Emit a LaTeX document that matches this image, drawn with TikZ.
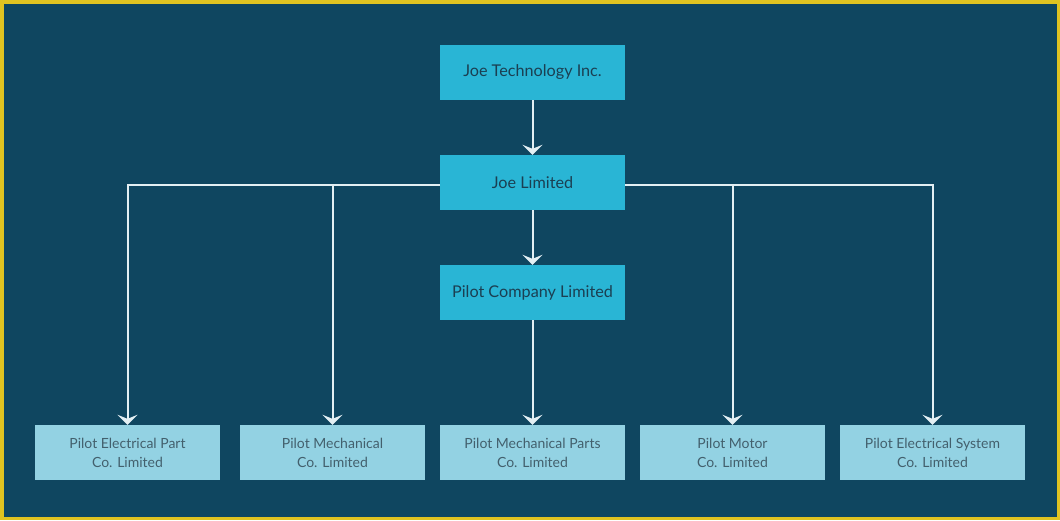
\documentclass[tikz,border=0pt]{standalone}
\usepackage{fontspec}
\setmainfont{Lato}
\usetikzlibrary{arrows.meta}

\definecolor{bgnavy}{HTML}{0F4660}
\definecolor{frameyellow}{HTML}{E0C321}
\definecolor{topcyan}{HTML}{29B5D5}
\definecolor{subblue}{HTML}{93D2E3}
\definecolor{topink}{HTML}{1B3F52}
\definecolor{subink}{HTML}{43606D}
\definecolor{linkline}{HTML}{E3EFF3}

\tikzset{
	company/.style = {fill = topcyan, text = topink, minimum width = 185pt, minimum height = 55pt, inner sep = 0pt, font = \fontsize{16.2}{19}\selectfont},
	subsidiary/.style = {fill = subblue, text = subink, minimum width = 185pt, minimum height = 55pt, inner sep = 0pt, align = center, font = \fontsize{14}{19}\selectfont},
	link/.style = {draw = linkline, line width = 2pt}
}

\begin{document}
\begin{tikzpicture}[x = 1pt, y = -1pt, > = {Stealth[length = 10pt, width = 20pt, inset = 4pt]}]

	\fill [frameyellow] (0, 0) rectangle (1060, 520);
	\fill [bgnavy] (3.5, 3.5) rectangle (1056.5, 516.5);

	\node [company] (joetech) at (532.5, 72.5) {Joe Technology Inc.};
	\node [company] (joeltd) at (532.5, 182.5) {Joe Limited};
	\node [company] (pilotco) at (532.5, 292.5) {Pilot Company Limited};

	\node [subsidiary] (electricalpart) at (127.5, 452.5) {Pilot Electrical Part\\Co. Limited};
	\node [subsidiary] (mechanical) at (332.5, 452.5) {Pilot Mechanical\\Co. Limited};
	\node [subsidiary] (mechparts) at (532.5, 452.5) {Pilot Mechanical Parts\\Co. Limited};
	\node [subsidiary] (motor) at (732.5, 452.5) {Pilot Motor\\Co. Limited};
	\node [subsidiary] (electricalsys) at (932.5, 452.5) {Pilot Electrical System\\Co. Limited};

	\coordinate (branch) at (0, 185);

	\begin{scope}[link, ->, xshift = 1.5pt]

		\draw (joetech) -- (joeltd);
		\draw (joeltd) -- (pilotco);
		\draw (pilotco) -- (mechparts);

		\draw (joeltd.west |- branch) -| (electricalpart.north);
		\draw (joeltd.west |- branch) -| (mechanical.north);
		\draw (joeltd.east |- branch) -| (motor.north);
		\draw (joeltd.east |- branch) -| (electricalsys.north);

	\end{scope}

\end{tikzpicture}
\end{document}
